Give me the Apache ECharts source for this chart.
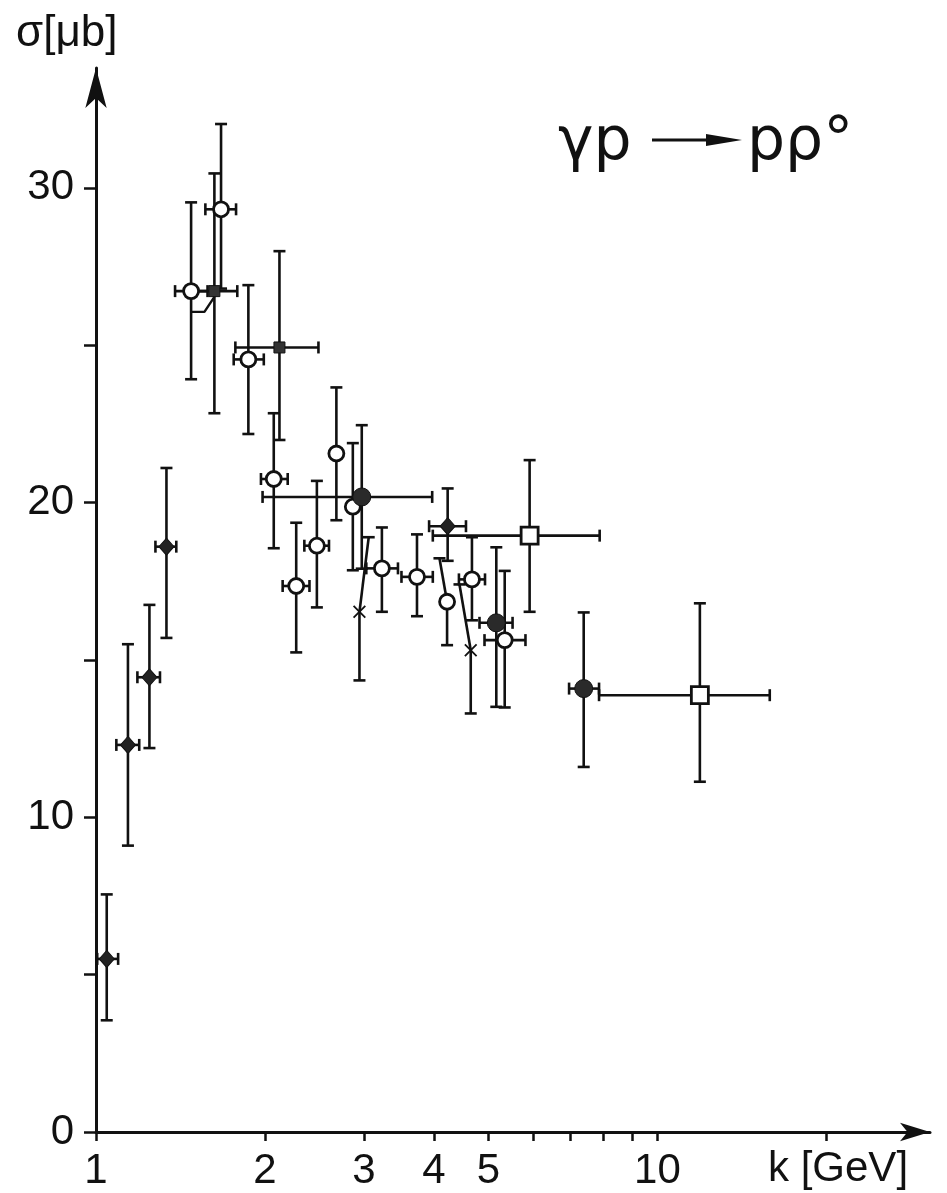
<!DOCTYPE html>
<html>
<head>
<meta charset="utf-8">
<title>gamma p -> p rho0</title>
<script src="https://cdn.jsdelivr.net/npm/echarts@6/dist/echarts.min.js"></script>
<style>
html,body{margin:0;padding:0;background:#fff;}
#main{width:947px;height:1193px;}
</style>
</head>
<body>
<div id="main"></div>
<script>
// k = photon energy [GeV], sig = cross section [mub]
// *Lo / *Hi = ends of the error bars, kTop = where a bent upper bar ends (null = straight)

// dark diamonds
var kDia     = [1.045, 1.14, 1.245, 1.335, 4.23];
var sigDia   = [5.5, 12.3, 14.45, 18.6, 19.25];
var sigDiaLo = [3.55, 9.1, 12.2, 15.7, 18.15];
var sigDiaHi = [7.55, 15.5, 16.75, 21.1, 20.45];
var kDiaLo   = [1.005, 1.087, 1.185, 1.276, 3.92];
var kDiaHi   = [1.095, 1.194, 1.30, 1.39, 4.56];

// open circles
var kOpen     = [1.477, 1.67, 1.868, 2.073, 2.273, 2.474, 2.68, 2.867, 3.23, 3.73, 4.22, 4.673, 5.345];
var sigOpen   = [26.72, 29.32, 24.55, 20.75, 17.35, 18.63, 21.56, 19.87, 17.91, 17.64, 16.85, 17.56, 15.63];
var sigOpenLo = [23.92, 26.8, 22.18, 18.55, 15.24, 16.67, 19.44, 17.85, 16.53, 16.39, 15.47, 16.26, 13.49];
var sigOpenHi = [29.54, 32.03, 26.91, 22.84, 19.36, 20.69, 23.66, 21.89, 19.21, 18.99, 18.23, 18.9, 17.83];
var kOpenLo   = [1.383, 1.566, 1.759, 1.967, 2.15, 2.35, 2.68, 2.867, 3.03, 3.5, 4.22, 4.43, 4.92];
var kOpenHi   = [1.58, 1.776, 1.99, 2.195, 2.40, 2.60, 2.68, 2.867, 3.45, 3.98, 4.22, 4.93, 5.82];
var kOpenTop  = [null, null, null, null, null, null, null, null, null, null, 4.09, null, null];

// small dark squares
var kSq     = [1.625, 2.122];
var sigSq   = [26.72, 24.93];
var sigSqLo = [22.84, 21.99];
var sigSqHi = [30.46, 27.99];
var kSqLo   = [1.47, 1.771];
var kSqHi   = [1.785, 2.49];

// dark dots
var kDot     = [2.974, 5.164, 7.39];
var sigDot   = [20.18, 16.18, 14.09];
var sigDotLo = [17.9, 13.51, 11.6];
var sigDotHi = [22.46, 18.58, 16.51];
var kDotLo   = [1.98, 4.82, 6.96];
var kDotHi   = [3.97, 5.52, 7.87];

// crosses
var kX     = [2.946, 4.65];
var sigX   = [16.53, 15.31];
var sigXLo = [14.35, 13.3];
var sigXHi = [18.9, 17.4];
var kXTop  = [3.06, 4.44];

// open squares
var kBox     = [5.92, 11.9];
var sigBox   = [18.95, 13.88];
var sigBoxLo = [16.53, 11.13];
var sigBoxHi = [21.35, 16.8];
var kBoxLo   = [3.98, 7.87];
var kBoxHi   = [7.89, 15.85];

// little connecting hook near 1.5 GeV
var hookK   = [1.477, 1.56, 1.625];
var hookSig = [26.06, 26.06, 26.54];

// axes
var xTicks  = [1, 2, 3, 4, 5, 6, 7, 8, 9, 10, 20];
var xLabels = [1, 2, 3, 4, 5, 10];
var yTicks  = [0, 5, 10, 15, 20, 25, 30];
var yLabels = [0, 10, 20, 30];

var INK = '#111';
var FONT = '"Liberation Sans", Arial, sans-serif';

function rows(k, s, sLo, sHi, kLo, kHi, kTop) {
	var out = [];
	for (var i = 0; i < k.length; i++) {
		out.push([
			k[i], s[i], sLo[i], sHi[i],
			kLo ? kLo[i] : k[i],
			kHi ? kHi[i] : k[i],
			(kTop && kTop[i] != null) ? kTop[i] : k[i]
		]);
	}
	return out;
}

function pts(k, s) {
	var out = [];
	for (var i = 0; i < k.length; i++) out.push([k[i], s[i]]);
	return out;
}

function seg(a, b) {
	return {
		type: 'line',
		shape: {x1: a[0], y1: a[1], x2: b[0], y2: b[1]},
		style: {stroke: INK, lineWidth: 2.6}
	};
}

function drawErrors(params, api) {
	var k = api.value(0), s = api.value(1);
	var c = api.coord([k, s]);
	var bot = api.coord([k, api.value(2)]);
	var top = api.coord([api.value(6), api.value(3)]);
	var l = api.coord([api.value(4), s]);
	var r = api.coord([api.value(5), s]);
	var w = 6;
	var kids = [
		seg(c, top), seg(c, bot),
		seg([top[0] - w, top[1]], [top[0] + w, top[1]]),
		seg([bot[0] - w, bot[1]], [bot[0] + w, bot[1]])
	];
	if (r[0] - l[0] > 2) {
		kids.push(seg(l, r));
		kids.push(seg([l[0], l[1] - w], [l[0], l[1] + w]));
		kids.push(seg([r[0], r[1] - w], [r[0], r[1] + w]));
	}
	return {type: 'group', children: kids};
}

function errSeries(data) {
	return {type: 'custom', renderItem: drawErrors, data: data, z: 2, silent: true};
}

function markSeries(data, symbol, size, fill, border) {
	return {
		type: 'scatter', data: data, symbol: symbol, symbolSize: size, z: 3, silent: true,
		itemStyle: {color: fill, borderColor: INK, borderWidth: border, opacity: 1}
	};
}

var crossPath = 'path://M0,1L1,0L5,4L9,0L10,1L6,5L10,9L9,10L5,6L1,10L0,9L4,5Z';

var myChart = echarts.init(document.getElementById('main'), null, {renderer: 'canvas'});

var option = {
	backgroundColor: '#fff',
	animation: false,
	grid: {left: 96, right: 17, top: 68, bottom: 61, containLabel: false},
	xAxis: {
		type: 'log', logBase: 10, min: 1, max: 30.58,
		axisLine: {onZero: false, lineStyle: {color: INK, width: 3}, symbol: ['none', 'arrow'], symbolSize: [14, 30]},
		axisTick: {customValues: xTicks, length: 9, lineStyle: {color: INK, width: 2.5}},
		axisLabel: {customValues: xLabels, margin: 18, color: INK, fontSize: 42, fontFamily: FONT},
		splitLine: {show: false},
		minorTick: {show: false}
	},
	yAxis: {
		type: 'value', min: 0, max: 33.81,
		axisLine: {onZero: false, lineStyle: {color: INK, width: 3}, symbol: ['none', 'arrow'], symbolSize: [16, 40]},
		axisTick: {customValues: yTicks, length: 12, lineStyle: {color: INK, width: 2.5}},
		axisLabel: {customValues: yLabels, margin: 22, color: INK, fontSize: 42, fontFamily: FONT},
		splitLine: {show: false}
	},
	graphic: [
		{type: 'text', left: 16, top: 12, style: {text: 'σ[μb]', fill: INK, font: '44px ' + FONT}},
		{type: 'text', left: 768, top: 1148, style: {text: 'k [GeV]', fill: INK, font: '42px ' + FONT}},
		// reaction label
		{type: 'text', left: 558, top: 113, style: {text: 'γp', fill: INK, font: '60px "DejaVu Sans", sans-serif'}},
		{type: 'line', shape: {x1: 652, y1: 140, x2: 712, y2: 140}, style: {stroke: INK, lineWidth: 3}},
		{type: 'polygon', shape: {points: [[706, 134], [742, 140], [706, 146]]}, style: {fill: INK}},
		{type: 'text', left: 747, top: 113, style: {text: 'pρ°', fill: INK, font: '60px "DejaVu Sans", sans-serif'}}
	],
	series: [
		errSeries(rows(kDia, sigDia, sigDiaLo, sigDiaHi, kDiaLo, kDiaHi)),
		errSeries(rows(kOpen, sigOpen, sigOpenLo, sigOpenHi, kOpenLo, kOpenHi, kOpenTop)),
		errSeries(rows(kSq, sigSq, sigSqLo, sigSqHi, kSqLo, kSqHi)),
		errSeries(rows(kDot, sigDot, sigDotLo, sigDotHi, kDotLo, kDotHi)),
		errSeries(rows(kX, sigX, sigXLo, sigXHi, null, null, kXTop)),
		errSeries(rows(kBox, sigBox, sigBoxLo, sigBoxHi, kBoxLo, kBoxHi)),
		{
			type: 'line', data: pts(hookK, hookSig), showSymbol: false, symbol: 'none', z: 2, silent: true,
			lineStyle: {color: INK, width: 2.4}
		},
		markSeries(pts(kDia, sigDia), 'diamond', [15, 17], '#222', 1),
		markSeries(pts(kOpen, sigOpen), 'circle', 15, '#fff', 2.8),
		markSeries(pts(kSq, sigSq), 'rect', 11, '#333', 1),
		markSeries(pts(kDot, sigDot), 'circle', 18, '#2a2a2a', 1),
		markSeries(pts(kX, sigX), crossPath, 13, INK, 0),
		markSeries(pts(kBox, sigBox), 'rect', 17, '#fff', 2.8)
	]
};
myChart.setOption(option, true);
</script>
</body>
</html>
